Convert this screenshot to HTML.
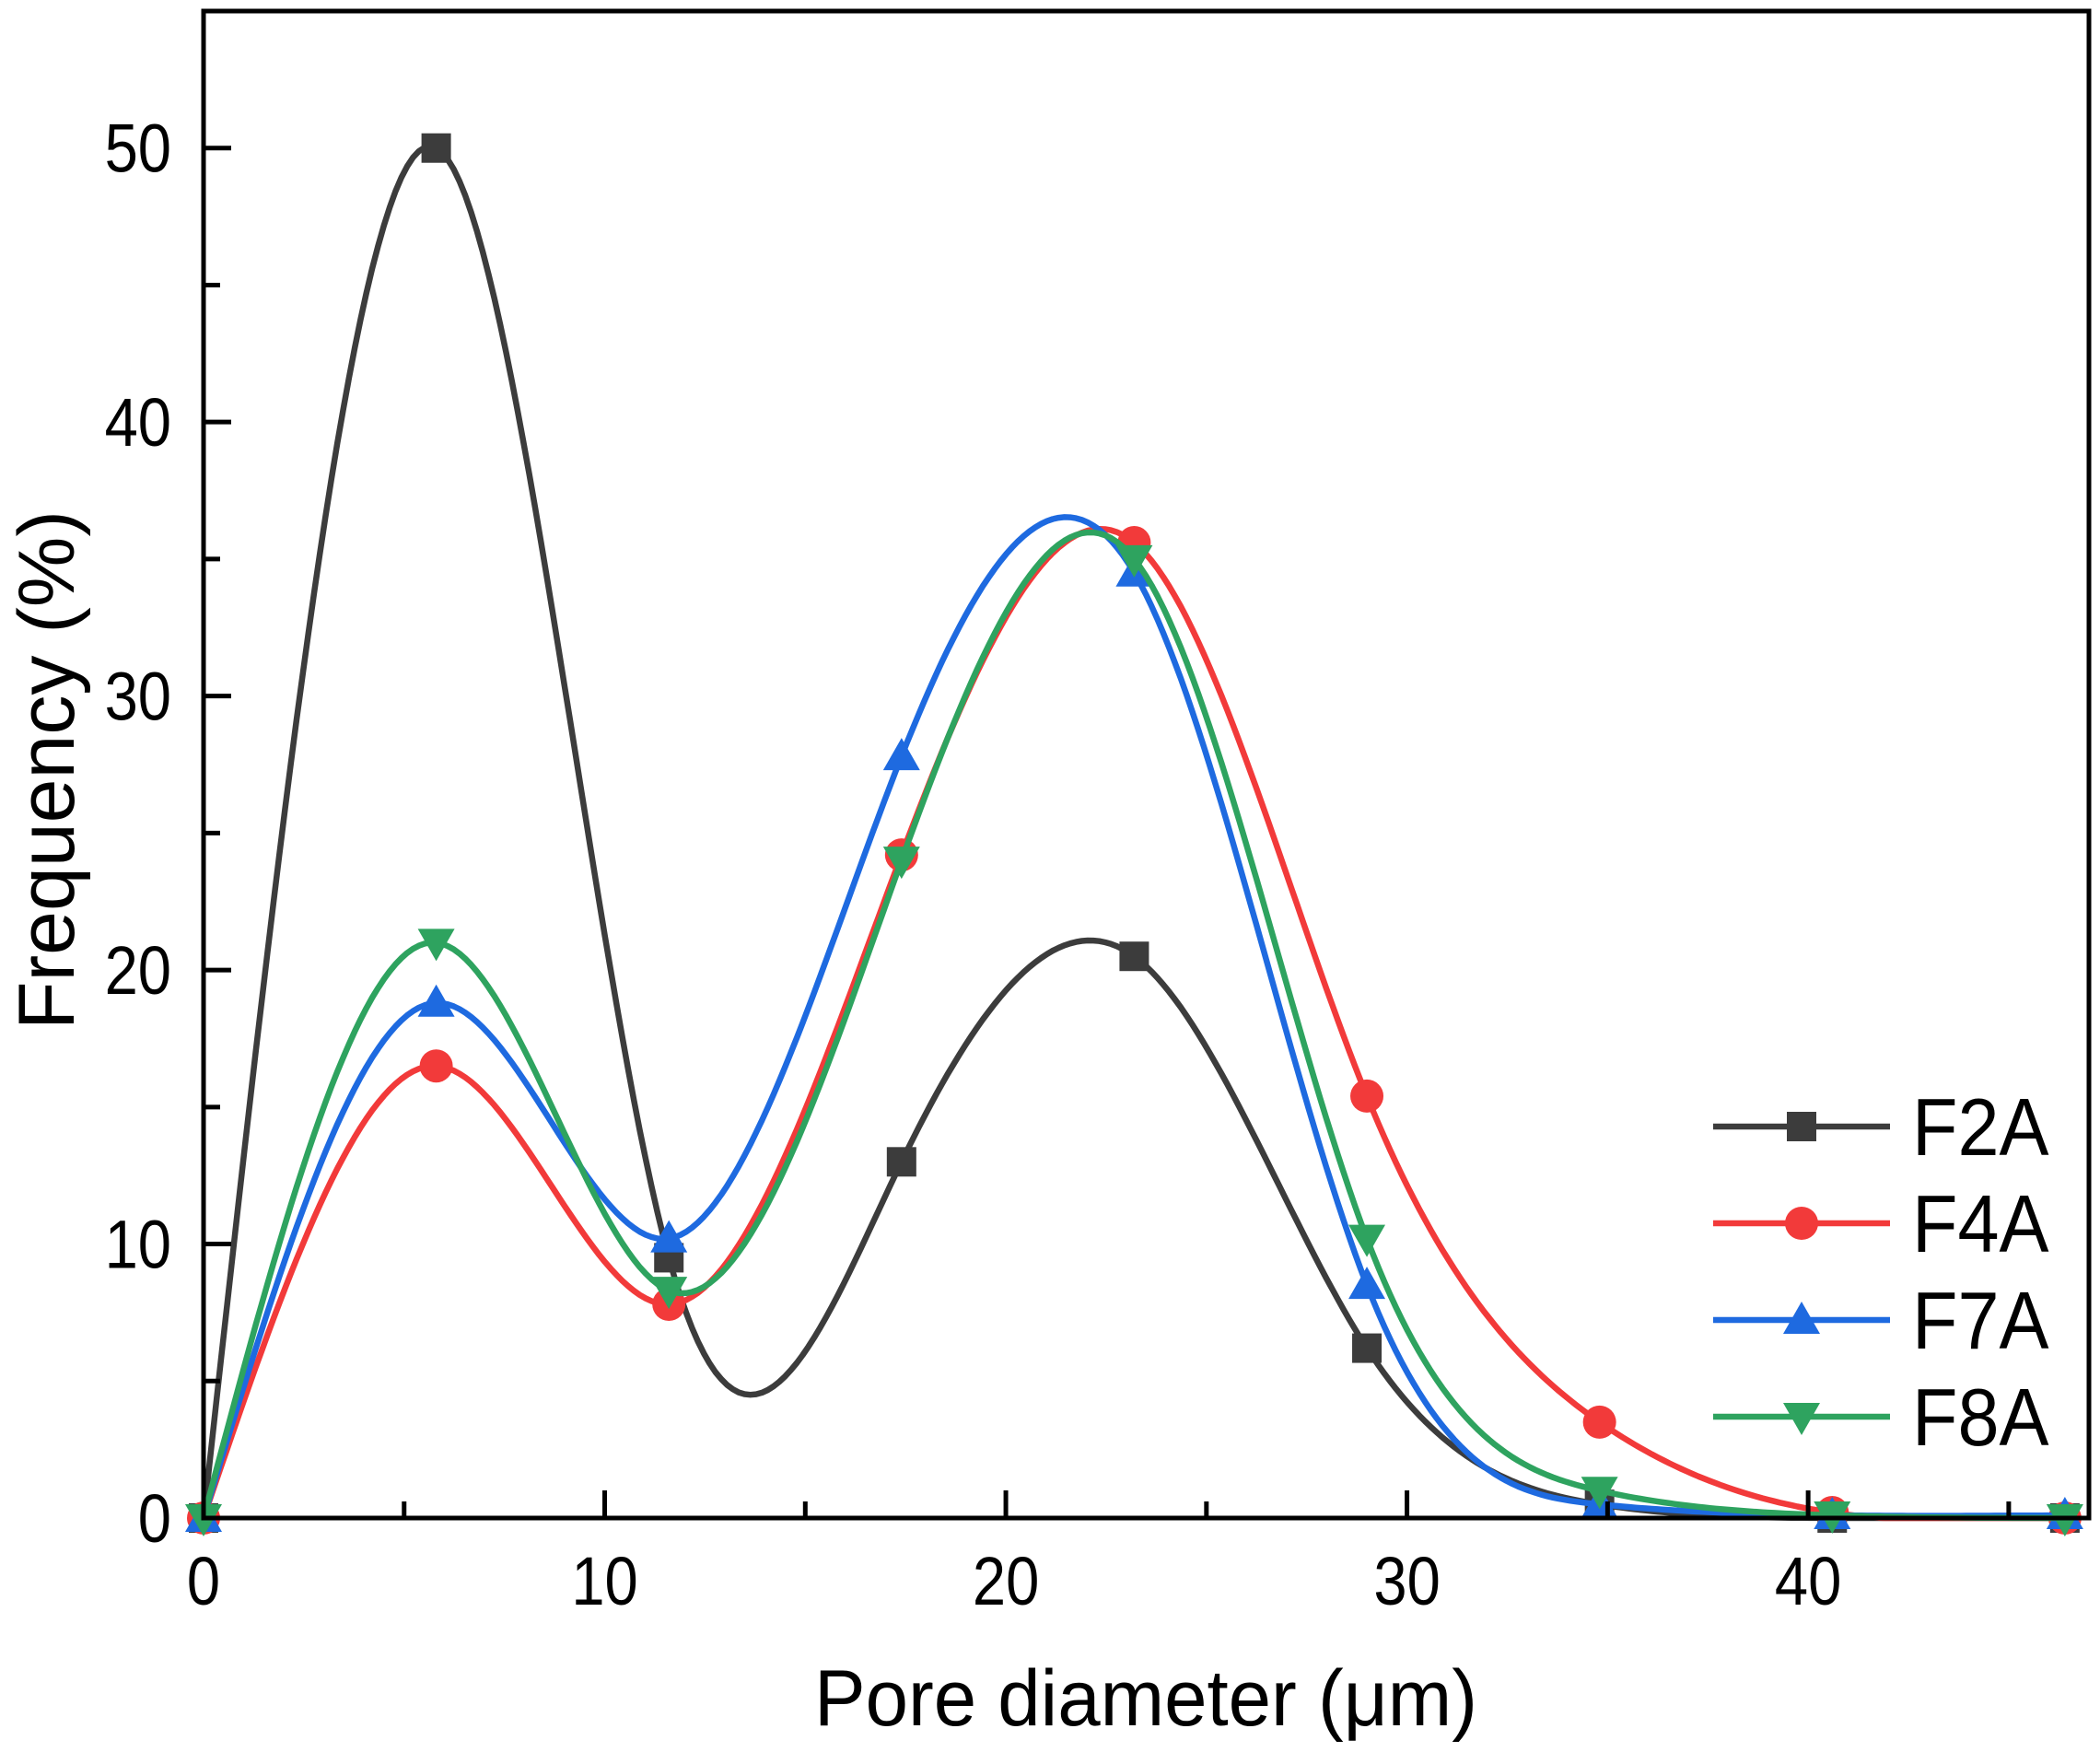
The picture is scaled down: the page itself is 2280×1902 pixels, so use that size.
<!DOCTYPE html>
<html><head><meta charset="utf-8"><style>
html,body{margin:0;padding:0;background:#fff;}
svg{display:block;font-family:"Liberation Sans",Arial,sans-serif;}
</style></head><body>
<svg id="chart" width="2280" height="1902" viewBox="0 0 2280 1902">
<g id="plot"></g>
</svg>
<script>
const xValues = [0, 5.8, 11.6, 17.4, 23.2, 29, 34.8, 40.6, 46.4];
const seriesNames = ["F2A", "F4A", "F7A", "F8A"];
const f2a = [0, 50, 9.5, 13, 20.5, 6.2, 0.5, 0, 0];
const f4a = [0, 16.5, 7.8, 24.2, 35.6, 15.4, 3.5, 0.2, 0];
const f7a = [0, 18.8, 10.2, 27.8, 34.5, 8.5, 0.5, 0.1, 0.1];
const f8a = [0, 21, 8.3, 24, 35, 10.2, 1, 0.1, 0];
const xTicks = [0, 10, 20, 30, 40];
const yTicks = [0, 10, 20, 30, 40, 50];

const NS = "http://www.w3.org/2000/svg";
const svg = document.getElementById("chart");
const X0 = 221, XR = 2268, YB = 1648, YT = 12;
const xMax = 47.0, yMax = 55.0;
function sx(v){ return X0 + v / xMax * (XR - X0); }
function sy(v){ return YB - v / yMax * (YB - YT); }
function el(tag, attrs, parent){ const e = document.createElementNS(NS, tag); for (const k in attrs) e.setAttribute(k, attrs[k]); (parent || svg).appendChild(e); return e; }

function spline(xs, ys){
  const n = xs.length, h = [], a = [], l = [1], mu = [0], z = [0], c = new Array(n).fill(0), b = [], d = [];
  for (let i = 0; i < n - 1; i++) h.push(xs[i+1] - xs[i]);
  for (let i = 1; i < n - 1; i++) a[i] = 3/h[i]*(ys[i+1]-ys[i]) - 3/h[i-1]*(ys[i]-ys[i-1]);
  for (let i = 1; i < n - 1; i++){ l[i] = 2*(xs[i+1]-xs[i-1]) - h[i-1]*mu[i-1]; mu[i] = h[i]/l[i]; z[i] = (a[i]-h[i-1]*z[i-1])/l[i]; }
  for (let j = n - 2; j >= 0; j--){ c[j] = (j>0 ? z[j] - mu[j]*c[j+1] : 0); b[j] = (ys[j+1]-ys[j])/h[j] - h[j]*(c[j+1]+2*c[j])/3; d[j] = (c[j+1]-c[j])/(3*h[j]); }
  c[0] = 0; b[0] = (ys[1]-ys[0])/h[0] - h[0]*(c[1])/3; d[0] = c[1]/(3*h[0]);
  const pts = [];
  for (let j = 0; j < n - 1; j++){
    for (let k = 0; k < 40; k++){ const t = h[j]*k/40; pts.push([xs[j]+t, ys[j]+b[j]*t+c[j]*t*t+d[j]*t*t*t]); }
  }
  pts.push([xs[n-1], ys[n-1]]);
  return pts;
}

const plot = document.getElementById("plot");
const data = [f2a, f4a, f7a, f8a];
const colors = ["#3c3c3c", "#f23a3a", "#1e6ae0", "#2ea35f"];
const shapes = ["square", "circle", "up", "down"];
function marker(shape, cx, cy, color, parent){
  let m;
  if (shape === "square") m = el("rect", {x: cx-16, y: cy-16, width: 32, height: 32, fill: color}, parent);
  else if (shape === "circle") m = el("circle", {cx: cx, cy: cy, r: 18, fill: color}, parent);
  else if (shape === "up") m = el("polygon", {points: `${cx},${cy-20} ${cx+20},${cy+15} ${cx-20},${cy+15}`, fill: color}, parent);
  else m = el("polygon", {points: `${cx},${cy+20} ${cx+20},${cy-15} ${cx-20},${cy-15}`, fill: color}, parent);
  return m;
}
data.forEach((ys, si) => {
  const g = el("g", {}, plot);
  
  
  const pts = spline(xValues, ys).map(p => [p[0], Math.max(p[1], 0)]);
  const line = el("path", {d: "M" + pts.map(p => sx(p[0]).toFixed(1) + "," + sy(p[1]).toFixed(1)).join("L"), fill: "none", stroke: colors[si], "stroke-width": 6.5, "stroke-linejoin": "round"}, g);
  
  
  ys.forEach((v, i) => {
    const m = marker(shapes[si], sx(xValues[i]), sy(v), colors[si], g);
    
    
  });
});

// axes
const axes = el("g", {});


el("rect", {x: X0, y: YT, width: XR - X0, height: YB - YT, fill: "none", stroke: "#000", "stroke-width": 5}, axes);
for (let v = 0; v <= 45; v += 5){
  const len = v % 10 === 0 ? 30 : 18;
  el("line", {x1: sx(v), y1: YB, x2: sx(v), y2: YB - len, stroke: "#000", "stroke-width": 5}, axes);
}
for (let v = 0; v <= 55; v += 5){
  const len = v % 10 === 0 ? 30 : 18;
  el("line", {x1: X0, y1: sy(v), x2: X0 + len, y2: sy(v), stroke: "#000", "stroke-width": 5}, axes);
}
xTicks.forEach(v => {
  const t = el("text", {x: 0, y: 0, "font-size": 74, "text-anchor": "middle", fill: "#000", transform: `translate(${sx(v)},1742) scale(0.88,1)`}, axes);
  t.textContent = v;
  
  
});
yTicks.forEach(v => {
  const t = el("text", {x: 0, y: 0, "font-size": 74, "text-anchor": "end", fill: "#000", transform: `translate(186,${sy(v) + 26}) scale(0.88,1)`}, axes);
  t.textContent = v;
  
  
});
const xt = el("text", {x: 0, y: 0, "font-size": 86, "text-anchor": "middle", fill: "#000", transform: "translate(1244,1873) scale(0.97,1)"}, axes);
xt.textContent = "Pore diameter (μm)";


const yt = el("text", {x: 0, y: 0, "font-size": 86, "text-anchor": "middle", fill: "#000", transform: "translate(80,836) rotate(-90)"}, axes);
yt.textContent = "Frequency (%)";



// legend
const legend = el("g", {});


const ly = [1223, 1328, 1433, 1538];
seriesNames.forEach((n, i) => {
  const g = el("g", {}, legend);
  
  
  el("line", {x1: 1860, y1: ly[i], x2: 2052, y2: ly[i], stroke: colors[i], "stroke-width": 6.5}, g);
  marker(shapes[i], 1956, ly[i], colors[i], g);
  const t = el("text", {x: 0, y: 0, "font-size": 88, fill: "#000", transform: `translate(2076,${ly[i] + 31}) scale(0.92,1)`}, g);
  t.textContent = n;
});
</script>
</body></html>
